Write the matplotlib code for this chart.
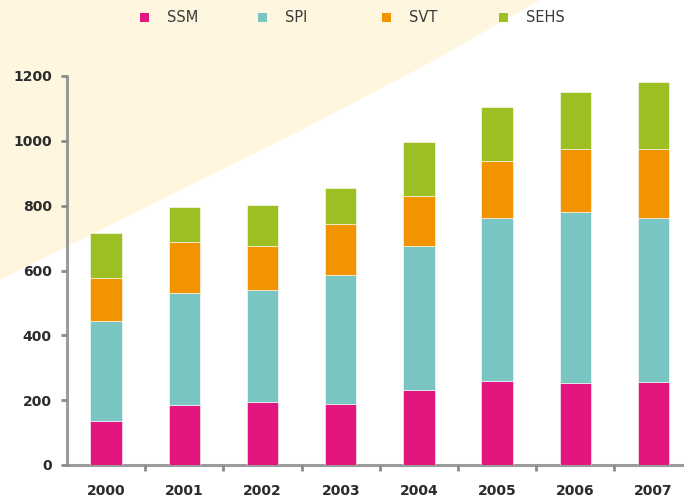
import numpy as np
import matplotlib
matplotlib.use("Agg")
import matplotlib.pyplot as plt
from matplotlib.patches import Polygon, Rectangle

# dados
anos = ["2000", "2001", "2002", "2003", "2004", "2005", "2006", "2007"]
ssm = [135, 184, 195, 188, 231, 259, 252, 256]
spi = [310, 348, 346, 399, 446, 503, 530, 506]
svt = [131, 155, 135, 155, 153, 176, 192, 212]
sehs = [140, 110, 127, 113, 167, 167, 178, 207]

nomes = ["SSM", "SPI", "SVT", "SEHS"]
cores = ["#E3157F", "#78C5C2", "#F29400", "#9CC024"]
series = [ssm, spi, svt, sehs]

W, H = 684, 498
fig = plt.figure(figsize=(W / 100, H / 100), dpi=100)

# fundo creme em diagonal (canto superior esquerdo)
pts = [(0, 0), (540, 0), (435, 60), (300, 131), (0, 280)]
fundo = Polygon([(x / W, 1 - y / H) for x, y in pts], closed=True,
                transform=fig.transFigure, facecolor="#FEF6DF",
                edgecolor="none", zorder=-5)
fig.patches.append(fundo)

left, bottom, top = 67 / W, 1 - 465 / H, 1 - 76 / H
ax = fig.add_axes([left, bottom, 1 - left, top - bottom])
ax.set_facecolor("none")

x = np.arange(len(anos))
base = np.zeros(len(anos))
for nome, cor, vals in zip(nomes, cores, series):
    ax.bar(x, vals, width=0.4, bottom=base, color=cor,
           edgecolor="#ffffff", linewidth=0.4, zorder=3)
    base += np.array(vals)

ax.set_ylim(0, 1200)
ax.set_xlim(-0.5, (W - 67) / 78.2 - 0.5)
ax.set_yticks(range(0, 1201, 200))
ax.set_xticks(x)
ax.set_xticklabels(anos)
ax.set_xticks(x[:-1] + 0.5, minor=True)

for s in ["top", "right"]:
    ax.spines[s].set_visible(False)
for s in ["left", "bottom"]:
    ax.spines[s].set_color("#8a8a8a")
    ax.spines[s].set_linewidth(2.2)
    ax.spines[s].set_alpha(0.85)
    ax.spines[s].set_capstyle("round")

ax.tick_params(axis="y", length=4, width=2, color="#8a8a8a", pad=7,
               labelsize=10, labelcolor="#2b2b2b")
ax.tick_params(axis="x", which="major", length=0, pad=14,
               labelsize=10, labelcolor="#2b2b2b")
ax.tick_params(axis="x", which="minor", length=4, width=2, color="#8a8a8a")
for lb in ax.get_xticklabels() + ax.get_yticklabels():
    lb.set_fontweight("bold")

# legenda no topo
pos_marca = [140, 258, 382, 499]
for nome, cor, px in zip(nomes, cores, pos_marca):
    fig.patches.append(Rectangle((px / W, 1 - 22 / H), 9 / W, 9 / H,
                                 transform=fig.transFigure, facecolor=cor,
                                 edgecolor="none", zorder=2))
    fig.text((px + 27) / W, 1 - 17.5 / H, nome, fontsize=10.5,
             color="#3a3a3a", va="center", ha="left")

fig.savefig("out.png", dpi=100)
